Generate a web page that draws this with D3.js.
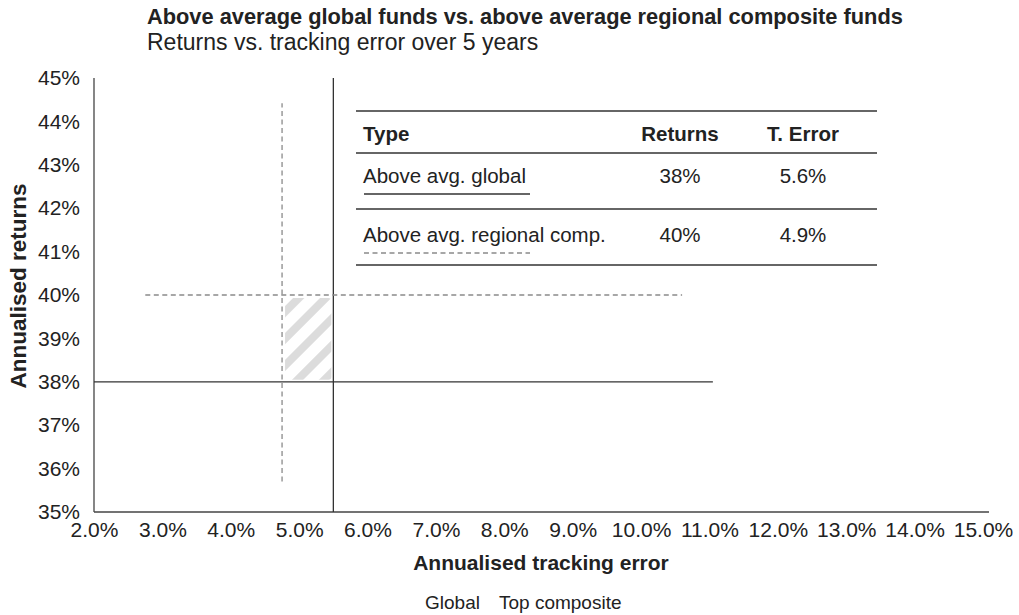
<!DOCTYPE html>
<html>
<head>
<meta charset="utf-8">
<script src="https://cdn.jsdelivr.net/npm/d3@7/dist/d3.min.js"></script>
<style>
  html, body { margin: 0; padding: 0; background: #fff; }
  svg { display: block; font-family: "Liberation Sans", Arial, Helvetica, sans-serif; }
</style>
</head>
<body>
<svg id="chart" width="1019" height="615"></svg>
<script>
// ---- data ----
const titleText = "Above average global funds vs. above average regional composite funds";
const subtitleText = "Returns vs. tracking error over 5 years";
const xTickValues = [2, 3, 4, 5, 6, 7, 8, 9, 10, 11, 12, 13, 14, 15];
const yTickValues = [35, 36, 37, 38, 39, 40, 41, 42, 43, 44, 45];
const seriesTypes = ["Above avg. global", "Above avg. regional comp."];
const seriesReturnsLabel = ["38%", "40%"];
const seriesTErrorLabel = ["5.6%", "4.9%"];
// line positions as drawn in the picture
const seriesReturns = [38, 40];
const seriesTError = [5.5, 4.75];
const hLineStart = [2, 2.75];
const hLineEnd = [11.05, 10.6];
const vLineStart = [35, 35.7];
const vLineEnd = [45, 44.42];
const legendLabels = ["Global", "Top composite"];

// ---- layout ----
const svg = d3.select("#chart");
const x = d3.scaleLinear().domain([2, 15]).range([94, 983]);
const y = d3.scaleLinear().domain([35, 45]).range([512, 78]);
const dark = "#333";
const dashGrey = "#8a8a8a";
const txt = "#222";

// hatch pattern
const defs = svg.append("defs");
const pat = defs.append("pattern")
  .attr("id", "hatch").attr("patternUnits", "userSpaceOnUse")
  .attr("width", 19).attr("height", 19)
  .attr("patternTransform", "rotate(45)");
pat.append("rect").attr("x", 0).attr("y", 0).attr("width", 8).attr("height", 19).attr("fill", "#dcdcdc");

// title
svg.append("text").attr("x", 147).attr("y", 24)
  .attr("font-size", 21.8).attr("font-weight", "bold").attr("fill", txt).text(titleText);
svg.append("text").attr("x", 147).attr("y", 50)
  .attr("font-size", 23).attr("fill", txt).text(subtitleText);

// hatched overlap area
svg.append("rect")
  .attr("x", x(seriesTError[1]) + 3)
  .attr("y", y(seriesReturns[1]) + 3)
  .attr("width", x(seriesTError[0]) - x(seriesTError[1]) - 5)
  .attr("height", y(seriesReturns[0]) - y(seriesReturns[1]) - 5)
  .attr("rx", 3)
  .attr("fill", "url(#hatch)");

// axes (lines only, no ticks)
const yAxis = d3.axisLeft(y).tickValues(yTickValues).tickFormat(d => d + "%").tickSize(0).tickPadding(14);
const gy = svg.append("g").attr("transform", "translate(94,0)").call(yAxis);
const xAxis = d3.axisBottom(x).tickValues(xTickValues).tickFormat(d => d.toFixed(1) + "%").tickSize(0).tickPadding(10);
const gx = svg.append("g").attr("transform", "translate(0,512)").call(xAxis);
[gx, gy].forEach(g => {
  g.select(".domain").remove();
  g.selectAll("text").attr("font-size", 21).attr("fill", txt)
    .attr("font-family", "'Liberation Sans', Arial, sans-serif");
});
svg.append("line").attr("x1", 94).attr("x2", 94).attr("y1", y(45)).attr("y2", y(35))
  .attr("stroke", "#444").attr("stroke-width", 1.3);
svg.append("line").attr("x1", 94).attr("x2", 989).attr("y1", y(35)).attr("y2", y(35))
  .attr("stroke", "#444").attr("stroke-width", 1.3);

// axis titles
svg.append("text").attr("x", 541).attr("y", 570).attr("text-anchor", "middle")
  .attr("font-size", 21).attr("font-weight", "bold").attr("fill", txt).text("Annualised tracking error");
svg.append("text").attr("transform", "translate(26,286) rotate(-90)").attr("text-anchor", "middle")
  .attr("font-size", 22.5).attr("font-weight", "bold").attr("fill", txt).text("Annualised returns");

// reference lines
const styles = [
  { stroke: dark, dash: null },
  { stroke: dashGrey, dash: "5,3.5" }
];
seriesReturns.forEach((r, i) => {
  svg.append("line")
    .attr("x1", x(hLineStart[i])).attr("x2", x(hLineEnd[i]))
    .attr("y1", y(r)).attr("y2", y(r))
    .attr("stroke", styles[i].stroke).attr("stroke-width", 1.3)
    .attr("stroke-dasharray", styles[i].dash);
  svg.append("line")
    .attr("x1", x(seriesTError[i])).attr("x2", x(seriesTError[i]))
    .attr("y1", y(vLineStart[i])).attr("y2", y(vLineEnd[i]))
    .attr("stroke", styles[i].stroke).attr("stroke-width", 1.3)
    .attr("stroke-dasharray", styles[i].dash);
});

// table
const tbl = svg.append("g");
const tL = 356, tR = 877;
const colType = 363, colRet = 680, colTE = 803;
const hLines = [111, 153, 209, 265];
const fs = 20.5;
hLines.forEach(yy => tbl.append("line").attr("x1", tL).attr("x2", tR).attr("y1", yy).attr("y2", yy)
  .attr("stroke", dark).attr("stroke-width", 1.6));
const hdr = tbl.append("g").attr("font-size", fs).attr("font-weight", "bold").attr("fill", txt);
hdr.append("text").attr("x", colType).attr("y", 141).text("Type");
hdr.append("text").attr("x", colRet).attr("y", 141).attr("text-anchor", "middle").text("Returns");
hdr.append("text").attr("x", colTE).attr("y", 141).attr("text-anchor", "middle").text("T. Error");
const rowBase = [183, 242];
seriesTypes.forEach((t, i) => {
  tbl.append("text").attr("x", colType).attr("y", rowBase[i]).attr("font-size", fs).attr("fill", txt).text(t);
  tbl.append("text").attr("x", colRet).attr("y", rowBase[i]).attr("text-anchor", "middle")
    .attr("font-size", fs).attr("fill", txt).text(seriesReturnsLabel[i]);
  tbl.append("text").attr("x", colTE).attr("y", rowBase[i]).attr("text-anchor", "middle")
    .attr("font-size", fs).attr("fill", txt).text(seriesTErrorLabel[i]);
  tbl.append("line").attr("x1", 364).attr("x2", 530)
    .attr("y1", rowBase[i] + 11).attr("y2", rowBase[i] + 11)
    .attr("stroke", styles[i].stroke).attr("stroke-width", 1.3)
    .attr("stroke-dasharray", styles[i].dash);
});

// legend (text only)
const legX = [425, 499];
legendLabels.forEach((l, i) => {
  svg.append("text").attr("x", legX[i]).attr("y", 609).attr("font-size", 19).attr("fill", txt).text(l);
});
</script>
</body>
</html>
